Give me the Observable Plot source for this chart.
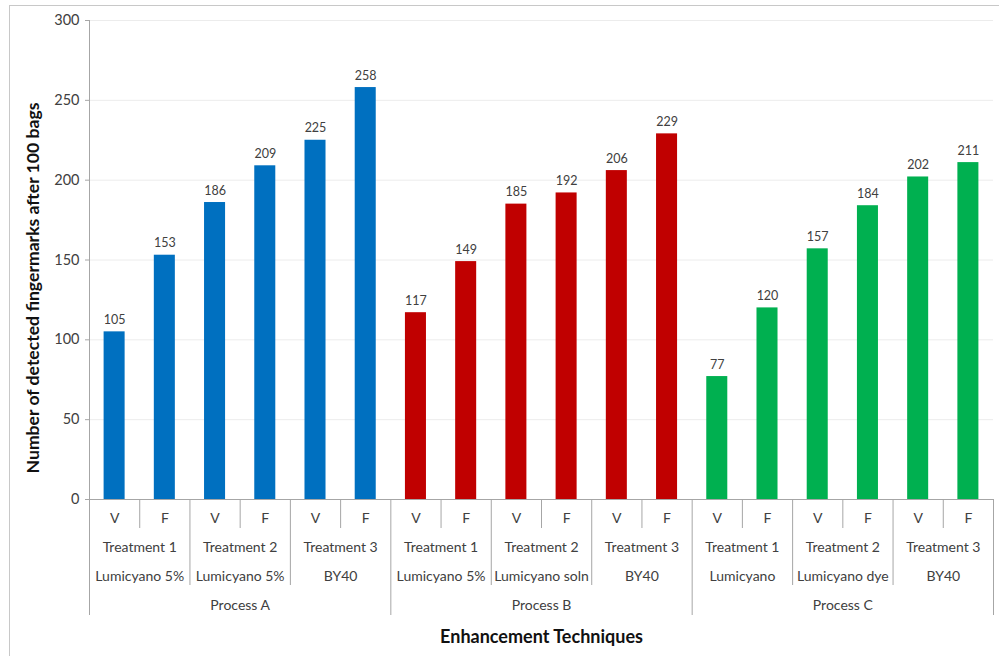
<!DOCTYPE html>
<html>
<head>
<meta charset="utf-8">
<script src="https://cdn.jsdelivr.net/npm/d3@7"></script>
<script src="https://cdn.jsdelivr.net/npm/@observablehq/plot@0.6"></script>
<style>
  html, body { margin: 0; padding: 0; background: #fff; }
  #wrap { position: relative; width: 999px; height: 656px; overflow: hidden; }
  #frame { position: absolute; left: 9px; top: 5px; width: 1200px; height: 900px;
           border-top: 1px solid #c8c8c8; border-left: 1px solid #c8c8c8; }
  #chart { position: absolute; left: 0; top: 0; }
</style>
</head>
<body>
<div id="wrap"><div id="frame"></div><div id="chart"></div></div>
<script>
// ---- data ----
const processes = ["Process A", "Process B", "Process C"];
const treatments = ["Treatment 1", "Treatment 2", "Treatment 3"];
const reagents = ["Lumicyano 5%", "Lumicyano 5%", "BY40",
                  "Lumicyano 5%", "Lumicyano soln", "BY40",
                  "Lumicyano", "Lumicyano dye", "BY40"];
const modes = ["V", "F"];
const valuesA = [105, 153, 186, 209, 225, 258];
const valuesB = [117, 149, 185, 192, 206, 229];
const valuesC = [77, 120, 157, 184, 202, 211];
const yTicks = [0, 50, 100, 150, 200, 250, 300];
const colors = ["#0070C0", "#C00000", "#00B050"];
const yTitle = "Number of detected fingermarks after 100 bags";
const xTitle = "Enhancement Techniques";

// ---- build tables ----
const seriesValues = [valuesA, valuesB, valuesC];
const bars = [];
const modeLabels = [];
const treatLabels = [];
const reagentLabels = [];
const processLabels = [];
processes.forEach((p, pi) => {
  processLabels.push({pos: pi * 6 + 3, text: p});
  treatments.forEach((t, ti) => {
    treatLabels.push({pos: pi * 6 + ti * 2 + 1, text: t});
    reagentLabels.push({pos: pi * 6 + ti * 2 + 1, text: reagents[pi * 3 + ti]});
    modes.forEach((m, mi) => {
      const i = pi * 6 + ti * 2 + mi;
      bars.push({i, process: p, value: seriesValues[pi][ti * 2 + mi]});
      modeLabels.push({pos: i + 0.5, text: m});
    });
  });
});
const nBands = bars.length;
const bounds = d3.range(nBands + 1).map(k => ({k, level: k % 6 === 0 ? 3 : k % 2 === 0 ? 2 : 1}));

// ---- layout ----
const W = 999, H = 656, mTop = 20, mBottom = 157, mLeft = 89, mRight = 6;
const plotH = H - mTop - mBottom;
const depth = {1: 29, 2: 86, 3: 116};
const txt = "#404040";

const chart = Plot.plot({
  width: W, height: H,
  marginTop: mTop, marginBottom: mBottom, marginLeft: mLeft, marginRight: mRight,
  style: {fontFamily: "Lato, 'Open Sans', sans-serif", background: "transparent", color: txt},
  x: {domain: [0, nBands], axis: null},
  y: {domain: [0, 300], axis: null},
  color: {domain: processes, range: colors},
  marks: [
    Plot.ruleY(yTicks.filter(v => v > 0), {stroke: "#ececec", strokeWidth: 1}),
    Plot.rectY(bars, {x1: "i", x2: d => d.i + 1, y: "value", fill: "process", insetLeft: 14.6, insetRight: 14.6}),
    Plot.text(bars, {x: d => d.i + 0.5, y: "value", text: d => String(d.value), dy: -12, fontSize: 12.5, fill: txt}),
    Plot.axisY({ticks: yTicks, tickSize: 4, tickPadding: 6, fontSize: 14.5, stroke: "#a6a6a6", fill: "#404040", label: null}),
    Plot.ruleX([0], {stroke: "#a6a6a6"}),
    Plot.ruleY([0], {stroke: "#a6a6a6"}),
    ...[1, 2, 3].map(lv => Plot.ruleX(bounds.filter(b => b.level === lv), {x: "k", stroke: "#a6a6a6", insetTop: plotH, insetBottom: -depth[lv]})),
    Plot.text(modeLabels, {x: "pos", text: "text", frameAnchor: "bottom", dy: 23, fontSize: 14, fill: txt}),
    Plot.text(treatLabels, {x: "pos", text: "text", frameAnchor: "bottom", dy: 52, fontSize: 14, fill: txt}),
    Plot.text(reagentLabels, {x: "pos", text: "text", frameAnchor: "bottom", dy: 81, fontSize: 14, fill: txt}),
    Plot.text(processLabels, {x: "pos", text: "text", frameAnchor: "bottom", dy: 110, fontSize: 14, fill: txt}),
    Plot.text([xTitle], {text: d => d, frameAnchor: "bottom", dy: 143, fontSize: 18, fontWeight: "bold", fill: "#111"}),
    Plot.text([yTitle], {text: d => d, frameAnchor: "left", textAnchor: "middle", dx: -56, dy: 28, rotate: -90, fontSize: 17.6, fontWeight: "bold", fill: "#111"})
  ]
});
document.getElementById("chart").appendChild(chart);
</script>
</body>
</html>
